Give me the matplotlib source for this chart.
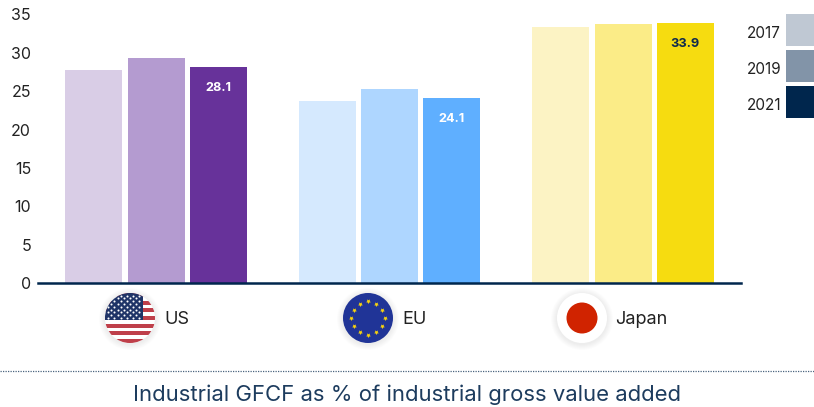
"""Industrial GFCF bars, 2017/2019/2021, with round flags under the groups."""
import numpy as np
import matplotlib
matplotlib.use("Agg")
import matplotlib.pyplot as plt
from matplotlib.patches import Circle, Rectangle

plt.rcParams["font.family"] = ["Inter", "DejaVu Sans"]

# data
regions = ["US", "EU", "Japan"]
years = ["2017", "2019", "2021"]
values_2017 = [27.8, 23.7, 33.4]
values_2019 = [29.3, 25.3, 33.8]
values_2021 = [28.1, 24.1, 33.9]
bar_colors = [
    ["#d9cde6", "#b49bd0", "#67329a"],
    ["#d5e9fe", "#aed6ff", "#5fafff"],
    ["#fcf3c4", "#fbec87", "#f6dc10"],
]
label_colors = ["white", "white", "#0f2a4d"]
legend_colors = ["#bfc8d3", "#8294a8", "#00264d"]
y_ticks = [0, 5, 10, 15, 20, 25, 30, 35]
title = "Industrial GFCF as % of industrial gross value added"

W, H = 814, 407
NAVY = "#00264d"
TEXT = "#222222"

fig = plt.figure(figsize=(W / 100, H / 100), dpi=100)

# overlay in pixel coords (y down) for flags, legend, footer
ov = fig.add_axes([0, 0, 1, 1], zorder=3)
ov.set_xlim(0, W)
ov.set_ylim(H, 0)
ov.axis("off")
ov.patch.set_alpha(0)

# chart area: x 38..741, y=0 at pixel 283, 7.67 px per unit
ax = fig.add_axes([38 / W, 1 - 283 / H, (741 - 38) / W, (283 - 14.5) / H], zorder=2)
ax.set_ylim(0, 35)
ax.set_xlim((38 - 156) / 233.5, (741 - 156) / 233.5)

x = np.arange(len(regions))
step = 62.2 / 233.5
width = 57 / 233.5
series = [values_2017, values_2019, values_2021]
for j, vals in enumerate(series):
    for i, v in enumerate(vals):
        ax.bar(x[i] + (j - 1) * step, v, width, color=bar_colors[i][j], linewidth=0)
for i, v in enumerate(values_2021):
    ax.annotate(f"{v}", (x[i] + step, v), xytext=(0, -21), textcoords="offset pixels",
                ha="center", va="center", fontsize=9.2, fontweight="bold",
                color=label_colors[i])

for s in ["top", "right", "left"]:
    ax.spines[s].set_visible(False)
ax.spines["bottom"].set_color(NAVY)
ax.spines["bottom"].set_linewidth(1.8)
ax.set_xticks([])
ax.set_yticks(y_ticks)
ax.tick_params(axis="y", length=0, pad=5, labelsize=11.5, labelcolor=TEXT)


def disc(cx, cy, r, color, z=4):
    c = Circle((cx, cy), r, facecolor=color, edgecolor="none", zorder=z)
    ov.add_patch(c)
    return c


def shadow(cx, cy, r):
    for k in range(6):
        ov.add_patch(Circle((cx, cy + 1), r + 6 - k, facecolor="#000000", alpha=0.012,
                            edgecolor="none", zorder=3))


# US flag
cx, cy, r = 130, 318, 25
shadow(cx, cy, r)
clip = disc(cx, cy, r, "white")
stripe_h = 2 * r / 13
for k in range(0, 13, 2):
    st = Rectangle((cx - r, cy - r + k * stripe_h), 2 * r, stripe_h,
                   facecolor="#bf3f4a", edgecolor="none", zorder=5)
    ov.add_patch(st)
    st.set_clip_path(clip)
canton = Rectangle((cx - r, cy - r), 38, 27, facecolor="#1f3467", edgecolor="none", zorder=6)
ov.add_patch(canton)
canton.set_clip_path(clip)
sx, sy = [], []
for row in range(9):
    n = 6 if row % 2 == 0 else 5
    for c in range(n):
        sx.append(cx - r + 3.2 + c * 6.2 + (0 if row % 2 == 0 else 3.1))
        sy.append(cy - r + 2.5 + row * 2.8)
pts = ov.scatter(sx, sy, s=2.2, color="white", linewidths=0, zorder=7)
pts.set_clip_path(clip)

# EU flag
cx = 368
shadow(cx, cy, r)
disc(cx, cy, r, "#203497")
ang = np.deg2rad(np.arange(0, 360, 30))
ov.scatter(cx + 16.7 * np.cos(ang), cy + 16.7 * np.sin(ang), s=13, marker=(5, 1, 180),
           color="#f6d20f", linewidths=0, zorder=6)

# Japan flag
cx = 582
shadow(cx, cy, r)
disc(cx, cy, r, "white")
disc(cx, cy, 15.5, "#d02300", z=5)

for name, tx in zip(regions, [164, 402, 615]):
    ov.text(tx, 319, name, ha="left", va="center", fontsize=13, color=TEXT)

# legend
for k, (yr, col) in enumerate(zip(years, legend_colors)):
    top = 14 + 36 * k
    ov.add_patch(Rectangle((786, top), 28, 32, facecolor=col, edgecolor="none"))
    ov.text(781, top + 19, yr, ha="right", va="center", fontsize=11, color=TEXT)

# footer
ov.plot([0, W], [371, 371], color="#1d3c5e", lw=0.9, ls=(0, (1, 1)), alpha=0.8)
ov.text(407, 395, title, ha="center", va="center", fontsize=15.9, color="#1d3c5e")

fig.savefig("out.png", dpi=100)
